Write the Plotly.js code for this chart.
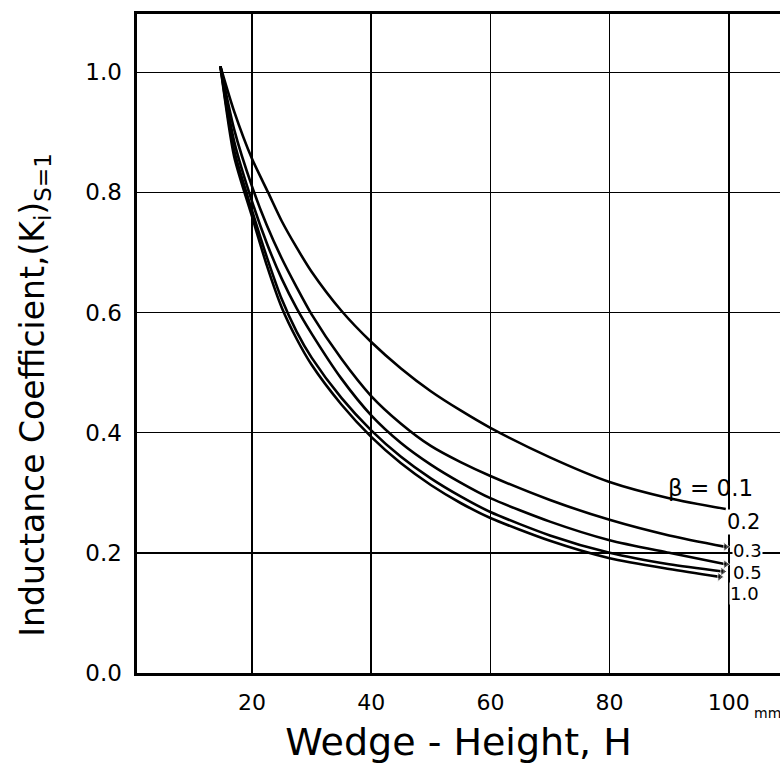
<!DOCTYPE html>
<html>
<head>
<meta charset="utf-8">
<script src="https://cdn.plot.ly/plotly-3.0.1.min.js"></script>
<style>html,body{margin:0;padding:0;background:#fff;}</style>
</head>
<body>
<div id="chart" style="width:780px;height:779px;"></div>
<script>
// Wedge height H (mm) and inductance coefficient (Ki)s=1 for each beta
const betaLabels = ["β = 0.1", "0.2", "0.3", "0.5", "1.0"];

const h_b01 = [14.7, 17, 20, 22.7, 25, 27.5, 30, 35, 40, 45, 50, 55, 60, 70, 80, 90, 99.5];
const k_b01 = [1.01, 0.935, 0.856, 0.80, 0.752, 0.708, 0.668, 0.603, 0.551, 0.507, 0.469, 0.437, 0.408, 0.359, 0.318, 0.291, 0.273];

const h_b02 = [14.7, 17, 20, 22.5, 25, 27.5, 30, 35, 40, 45, 50, 55, 60, 70, 80, 90, 99.5];
const k_b02 = [1.01, 0.905, 0.81, 0.745, 0.69, 0.642, 0.597, 0.523, 0.461, 0.415, 0.378, 0.351, 0.328, 0.288, 0.255, 0.229, 0.21];

const h_b03 = [14.7, 17, 20, 22.5, 25, 27.5, 30, 35, 40, 45, 50, 55, 60, 70, 80, 90, 99.5];
const k_b03 = [1.01, 0.885, 0.785, 0.715, 0.656, 0.607, 0.565, 0.49, 0.429, 0.383, 0.347, 0.317, 0.291, 0.252, 0.221, 0.200, 0.181];

const h_b05 = [14.7, 17, 20, 22.5, 25, 27.5, 30, 35, 40, 45, 50, 55, 60, 70, 80, 90, 99];
const k_b05 = [1.01, 0.87, 0.77, 0.692, 0.622, 0.568, 0.525, 0.458, 0.404, 0.36, 0.324, 0.294, 0.268, 0.229, 0.20, 0.181, 0.169];

const h_b10 = [14.7, 17, 20, 22.5, 25, 27.5, 30, 35, 40, 45, 50, 55, 60, 70, 80, 90, 98.5];
const k_b10 = [1.01, 0.86, 0.76, 0.678, 0.608, 0.556, 0.513, 0.447, 0.393, 0.349, 0.313, 0.283, 0.258, 0.22, 0.191, 0.173, 0.160];

const xTicks = [20, 40, 60, 80, 100];
const xTickText = ["20", "40", "60", "80", "100"];
const yTicks = [0.0, 0.2, 0.4, 0.6, 0.8, 1.0];
const yTickText = ["0.0", "0.2", "0.4", "0.6", "0.8", "1.0"];

const series = [
  {h: h_b01, k: k_b01, arrow: false},
  {h: h_b02, k: k_b02, arrow: true},
  {h: h_b03, k: k_b03, arrow: true},
  {h: h_b05, k: k_b05, arrow: true},
  {h: h_b10, k: k_b10, arrow: true}
];

const traces = series.map((s, idx) => ({
  x: s.h, y: s.k, type: "scatter", mode: "lines+markers",
  name: betaLabels[idx],
  line: {color: "#000", width: 2.6, shape: "spline", smoothing: 0.7},
  marker: {color: "#000", symbol: "triangle-right",
           size: s.h.map((_, i) => (s.arrow && i === s.h.length - 1) ? 8 : 0)},
  showlegend: false, hoverinfo: "x+y"
}));

const labelY = [0.308, 0.251, 0.204, 0.168, 0.132];
const labelX = [89.6, 99.6, 100.6, 100.6, 100.1];
const labelSize = [23, 21, 18, 18, 18];

const annotations = betaLabels.map((t, i) => ({
  x: labelX[i], y: labelY[i], xref: "x", yref: "y", text: t,
  showarrow: false, xanchor: "left", yanchor: "middle",
  font: {family: "DejaVu Sans", size: labelSize[i], color: "#000"},
  bgcolor: i === 0 ? "rgba(0,0,0,0)" : "#fff", borderpad: 0
}));

annotations.push({
  x: 0.9565, y: -0.06, xref: "paper", yref: "paper", text: "mm",
  showarrow: false, xanchor: "left", yanchor: "middle",
  font: {family: "DejaVu Sans", size: 14, color: "#000"}
});

annotations.push({
  x: -0.159, y: 0.422, xref: "paper", yref: "paper",
  text: "Inductance Coefficient,(K<sub>i</sub>)<sub>S=1</sub>",
  textangle: -90, showarrow: false, xanchor: "center", yanchor: "middle",
  font: {family: "DejaVu Sans", size: 33, color: "#000"}
});

const layout = {
  width: 780, height: 779,
  margin: {l: 137, r: 0, t: 14, b: 106},
  paper_bgcolor: "#fff", plot_bgcolor: "#fff",
  showlegend: false,
  xaxis: {
    range: [0.7, 108.6], tickvals: xTicks, ticktext: xTickText,
    showgrid: true, gridcolor: "#000", gridwidth: 1.5,
    zeroline: false, showline: true, linecolor: "#000", linewidth: 3, mirror: true,
    ticks: "", ticklabelstandoff: 8,
    tickfont: {family: "DejaVu Sans", size: 22, color: "#000"},
    title: {text: "Wedge - Height, H", standoff: 14,
            font: {family: "DejaVu Sans", size: 38, color: "#000"}},
    fixedrange: true
  },
  yaxis: {
    range: [0, 1.097], tickvals: yTicks, ticktext: yTickText,
    showgrid: true, gridcolor: "#000", gridwidth: 1.5,
    zeroline: false, showline: true, linecolor: "#000", linewidth: 3.5, mirror: false,
    ticks: "", ticklabelstandoff: 7,
    tickfont: {family: "DejaVu Sans", size: 23, color: "#000"},
    fixedrange: true
  },
  annotations: annotations
};

Plotly.newPlot("chart", traces, layout, {displayModeBar: false, staticPlot: true});
</script>
</body>
</html>
